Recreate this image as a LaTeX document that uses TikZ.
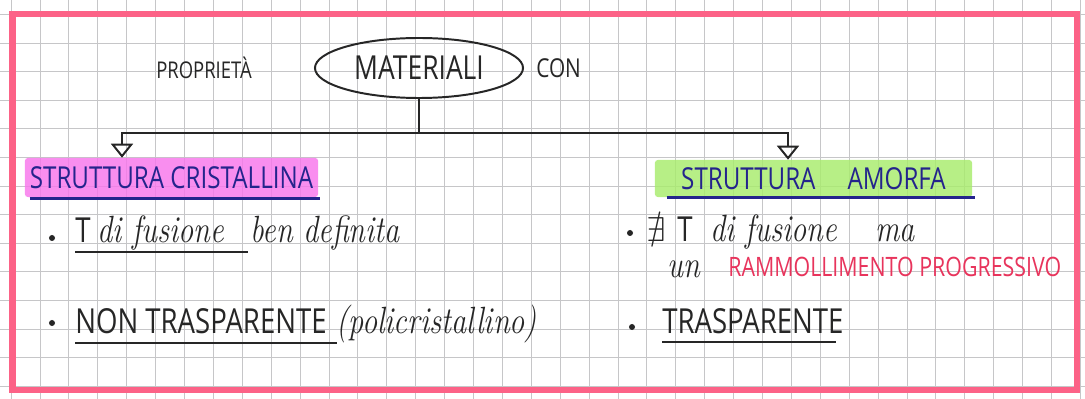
\documentclass[tikz,border=0pt]{standalone}
\usepackage{amssymb}
\usepackage{fontspec}
\newfontfamily\handfont[FakeStretch=0.8]{Open Sans}
\newfontfamily\curfont[FakeStretch=0.8]{Latin Modern Roman}
\usepackage{xcolor}
\definecolor{gridgrey}{RGB}{198,198,200}
\definecolor{bordopink}{RGB}{252,98,135}
\definecolor{hlpink}{RGB}{248,118,236}
\definecolor{hlgreen}{RGB}{168,236,108}
\definecolor{inkblack}{RGB}{38,38,38}
\definecolor{inknavy}{RGB}{36,36,140}
\definecolor{inkred}{RGB}{232,52,92}
\usetikzlibrary{positioning,calc,shapes.geometric,arrows.meta}

\begin{document}
\begin{tikzpicture}[
    x=0.025cm, y=-0.025cm,
    gridline/.style={gridgrey, line width=0.6pt},
    frame/.style={draw=bordopink, line width=0.15cm},
    ink/.style={draw=inkblack, line width=1.4pt},
    arrow/.style={ink, -{Triangle[open, width=0.55cm, length=0.35cm]}},
    uline/.style={draw=inkblack, line width=1.3pt},
    navyline/.style={draw=inknavy, line width=1.8pt},
    caps/.style={font=\handfont\fontsize{24.5}{28}\selectfont, text=inkblack, inner sep=0pt, anchor=base west},
    cur/.style={font=\curfont\itshape\fontsize{27}{30}\selectfont, text=inkblack, inner sep=0pt, anchor=base west},
    redcaps/.style={font=\handfont\fontsize{19}{22}\selectfont, text=inkred, inner sep=0pt, anchor=base west},
    heading/.style={font=\handfont\fontsize{21.5}{24}\selectfont, text=inknavy, fill opacity=0.82, text opacity=1, rounded corners=2pt, inner sep=0pt},
    dot/.style={circle, fill=inkblack, inner sep=0pt, minimum size=0.15cm}
]
\useasboundingbox (0,0) rectangle (1085,399);
\fill[white] (0,0) rectangle (1085,399);

% squared paper
\foreach \i in {0,...,37}
    \draw[gridline] (11.1+28.9*\i,0) -- (11.1+28.9*\i,399);
\foreach \j in {0,...,13}
    \draw[gridline] (0,14.4+28.6*\j) -- (1085,14.4+28.6*\j);

% Top: materials
\node[ellipse, ink, minimum width=5.2cm, minimum height=1.5cm, inner sep=0pt,
      font=\handfont\fontsize{23.5}{26}\selectfont, text=inkblack] (mat) at (419,68) {MATERIALI};
\node[font=\handfont\fontsize{16.4}{20}\selectfont, text=inkblack, inner sep=0pt,
      left=1.55cm of mat] (prop) {PROPRIETÀ};
\node[font=\handfont\fontsize{18.5}{22}\selectfont, text=inkblack, inner sep=0pt,
      right=0.3cm of mat] (con) {CON};

% Headings
\node[heading, fill=hlpink, minimum width=7.325cm, minimum height=0.975cm] (crist) at (171.5,177.5) {STRUTTURA CRISTALLINA};
\node[heading, fill=hlgreen, minimum width=7.925cm, minimum height=0.925cm] (amorfa) at (813.5,178.5) {STRUTTURA\hspace{0.8cm}AMORFA};
\draw[navyline] ($(crist.south west)+(5,1)$) -- ($(crist.south east)+(2,1)$);
\draw[navyline] ($(amorfa.south west)+(12,0)$) -- ($(amorfa.south east)+(3,0)$);

% Branches
\draw[ink] (mat.south) -- ++(0,34) coordinate (split);
\draw[arrow] (split) -| ($(crist.north)+(-49.5,0)$);
\draw[arrow] (split) -| ($(amorfa.north)+(-25.5,0)$);

% Left list
\node[dot] (b1) at (52,238) {};
\node[caps] (t1) at (75,243) {T};
\node[cur] (fus1) at (97,243) {di fusione};
\node[cur] (ben) at (250,243) {ben definita};
\draw[uline] ($(t1.base west)+(0,9)$) -- ($(fus1.base east)+(24,9)$);

\node[dot] (b2) at (52,323) {};
\node[caps] (nontr) at (75,333) {NON TRASPARENTE};
\node[cur] (poli) at (336,333) {(policristallino)};
\draw[uline] ($(nontr.base west)+(0,10)$) -- ($(nontr.base east)+(10,10)$);

% Right list
\node[dot] (b3) at (630,233) {};
\node[caps] (nex) at (646,242) {$\nexists$};
\node[caps] (t2) at (677,242) {T};
\node[cur] (fus2) at (710,242) {di fusione\quad ma};
\node[cur] (un) at (667,278) {un};
\node[redcaps] (ramm) at (728,277) {RAMMOLLIMENTO PROGRESSIVO};

\node[dot] (b4) at (632,327) {};
\node[caps] (trasp) at (662,333) {TRASPARENTE};
\draw[uline] ($(trasp.base west)+(0,9)$) -- ($(trasp.base east)+(-8,9)$);

% page frame
\draw[frame] (12.5,14) rectangle (1077,390);
\end{tikzpicture}
\end{document}
